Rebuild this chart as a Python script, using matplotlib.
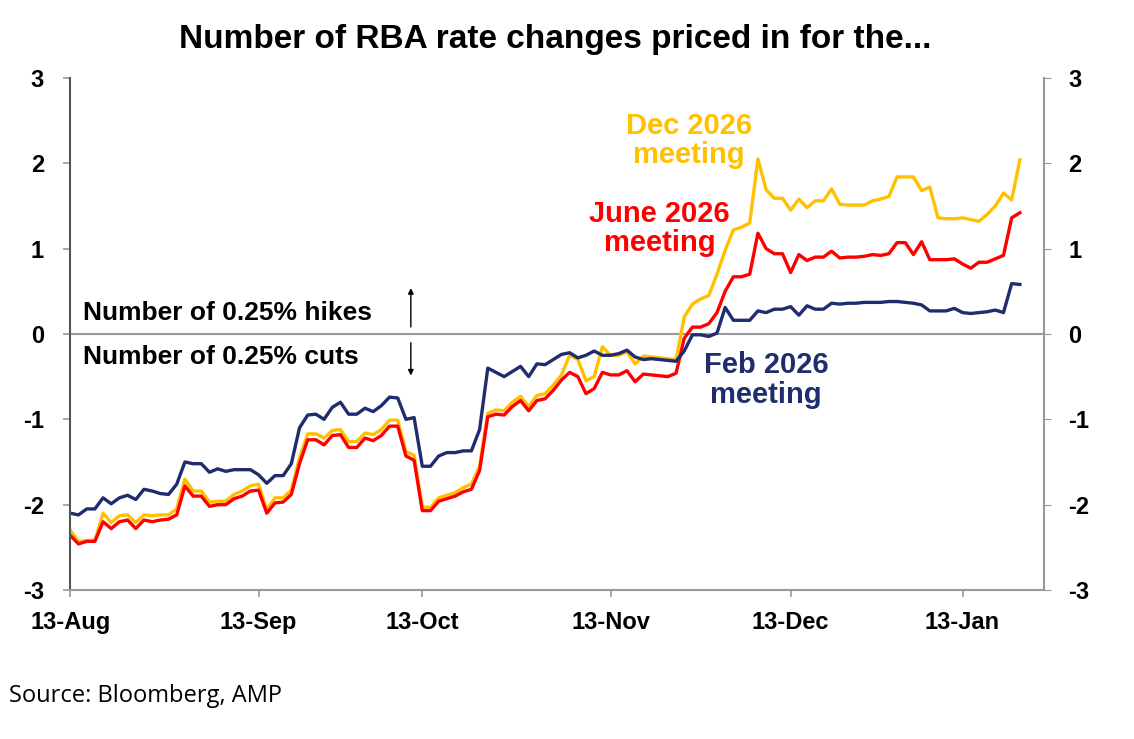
import numpy as np
import pandas as pd
import matplotlib
matplotlib.use("Agg")
import matplotlib.pyplot as plt

plt.rcParams['font.family'] = ['Liberation Sans', 'DejaVu Sans']

feb26 = [-2.10, -2.12, -2.05, -2.05, -1.92, -1.99, -1.92, -1.89, -1.94, -1.82,
         -1.84, -1.87, -1.88, -1.76, -1.50, -1.52, -1.52, -1.62, -1.58, -1.61,
         -1.59, -1.59, -1.59, -1.65, -1.75, -1.66, -1.66, -1.52, -1.10, -0.95,
         -0.94, -1.00, -0.86, -0.80, -0.94, -0.94, -0.87, -0.91, -0.84, -0.74,
         -0.75, -1.00, -0.98, -1.55, -1.55, -1.43, -1.39, -1.39, -1.37, -1.37,
         -1.12, -0.40, -0.45, -0.50, -0.44, -0.38, -0.50, -0.35, -0.36, -0.30,
         -0.24, -0.22, -0.28, -0.25, -0.20, -0.25, -0.25, -0.23, -0.19, -0.27,
         -0.30, -0.29, -0.30, -0.31, -0.32, -0.20, -0.01, -0.01, -0.03, 0.01,
         0.31, 0.16, 0.16, 0.16, 0.27, 0.25, 0.29, 0.29, 0.32, 0.22,
         0.33, 0.29, 0.29, 0.36, 0.35, 0.36, 0.36, 0.37, 0.37, 0.37,
         0.38, 0.38, 0.37, 0.36, 0.34, 0.27, 0.27, 0.27, 0.30, 0.25,
         0.24, 0.25, 0.26, 0.28, 0.25, 0.59, 0.58]

jun26 = [-2.36, -2.46, -2.43, -2.43, -2.20, -2.28, -2.20, -2.18, -2.28, -2.18,
         -2.20, -2.18, -2.17, -2.12, -1.78, -1.90, -1.90, -2.02, -2.00, -2.00,
         -1.93, -1.90, -1.84, -1.83, -2.10, -1.98, -1.97, -1.88, -1.52, -1.24,
         -1.24, -1.30, -1.19, -1.18, -1.33, -1.33, -1.22, -1.25, -1.19, -1.08,
         -1.08, -1.43, -1.48, -2.07, -2.07, -1.96, -1.93, -1.90, -1.85, -1.82,
         -1.60, -0.97, -0.94, -0.95, -0.85, -0.78, -0.90, -0.78, -0.76, -0.66,
         -0.54, -0.45, -0.50, -0.70, -0.64, -0.45, -0.48, -0.48, -0.43, -0.56,
         -0.47, -0.48, -0.49, -0.50, -0.46, -0.05, 0.08, 0.08, 0.12, 0.25,
         0.50, 0.67, 0.67, 0.70, 1.18, 1.00, 0.94, 0.94, 0.72, 0.93,
         0.86, 0.90, 0.90, 0.97, 0.89, 0.90, 0.90, 0.91, 0.93, 0.92,
         0.94, 1.07, 1.07, 0.93, 1.08, 0.87, 0.87, 0.87, 0.88, 0.82,
         0.77, 0.84, 0.84, 0.88, 0.92, 1.36, 1.42]

dec26 = [-2.30, -2.43, -2.42, -2.42, -2.10, -2.21, -2.13, -2.12, -2.21, -2.12,
         -2.13, -2.12, -2.12, -2.05, -1.70, -1.84, -1.84, -1.97, -1.96, -1.96,
         -1.88, -1.84, -1.78, -1.76, -2.06, -1.92, -1.92, -1.83, -1.45, -1.17,
         -1.17, -1.22, -1.13, -1.12, -1.26, -1.26, -1.16, -1.18, -1.12, -1.01,
         -1.01, -1.38, -1.42, -2.03, -2.03, -1.92, -1.89, -1.86, -1.80, -1.76,
         -1.55, -0.93, -0.89, -0.90, -0.80, -0.73, -0.85, -0.72, -0.70, -0.60,
         -0.48, -0.25, -0.30, -0.55, -0.50, -0.15, -0.25, -0.25, -0.21, -0.35,
         -0.26, -0.27, -0.28, -0.29, -0.30, 0.20, 0.35, 0.41, 0.45, 0.70,
         0.98, 1.22, 1.25, 1.30, 2.05, 1.69, 1.59, 1.59, 1.45, 1.58,
         1.48, 1.56, 1.56, 1.70, 1.52, 1.51, 1.51, 1.51, 1.56, 1.58,
         1.61, 1.84, 1.84, 1.84, 1.68, 1.72, 1.36, 1.35, 1.35, 1.36,
         1.34, 1.32, 1.40, 1.50, 1.65, 1.57, 2.04]

tick_dates = ['2025-08-13', '2025-09-13', '2025-10-13', '2025-11-13', '2025-12-13', '2026-01-13']
tick_labels = ['13-Aug', '13-Sep', '13-Oct', '13-Nov', '13-Dec', '13-Jan']

n = max(len(feb26), len(jun26), len(dec26))
dates = pd.bdate_range('2025-08-13', periods=n)
tick_pos = [int(np.searchsorted(dates, pd.Timestamp(d))) for d in tick_dates]

navy = '#1F2D6E'
red = '#FF0000'
gold = '#FFC000'

fig = plt.figure(figsize=(11.34, 7.39), dpi=100)
ax = fig.add_axes([0.062, 0.2016, 0.859, 0.693])

ax.plot(np.arange(len(dec26)), dec26, color=gold, lw=2.4)
ax.plot(np.arange(len(jun26)), jun26, color=red, lw=2.4)
ax.plot(np.arange(len(feb26)), feb26, color=navy, lw=2.4)

ax.set_ylim(-3, 3)
ax.set_xlim(0, n + 2)
ax.set_yticks([-3, -2, -1, 0, 1, 2, 3])
ax.set_yticklabels(['-3', '-2', '-1', '0', '1', '2', '3'])
ax.set_xticks(tick_pos)
ax.set_xticklabels(tick_labels)
ax.axhline(0, color='#999999', lw=1.5, zorder=0)
for s in ['left', 'right', 'bottom']:
    ax.spines[s].set_color('#999999')
    ax.spines[s].set_linewidth(1.5)
ax.spines['top'].set_visible(False)
ax.spines['left'].set_color('#555555')
ax.tick_params(axis='both', labelsize=17, length=5, color='#999999', width=1.2)
ax.tick_params(axis='x', pad=10)
for t in ax.get_xticklabels() + ax.get_yticklabels():
    t.set_fontweight('bold')
ax.yaxis.set_tick_params(pad=14)

ax2 = ax.twinx()
ax2.set_ylim(-3, 3)
ax2.set_yticks([-3, -2, -1, 0, 1, 2, 3])
ax2.set_yticklabels(['-3', '-2', '-1', '0', '1', '2', '3'])
ax2.tick_params(axis='y', labelsize=17, length=5, color='#999999', pad=12)
for t in ax2.get_yticklabels():
    t.set_fontweight('bold')
for s in ax2.spines.values():
    s.set_visible(False)

fig.text(0.49, 0.935, 'Number of RBA rate changes priced in for the...', ha='center',
         fontsize=24, fontweight='bold')

ax.text(1.5, 0.25, 'Number of 0.25% hikes', fontsize=19, fontweight='bold', va='center')
ax.text(1.5, -0.27, 'Number of 0.25% cuts', fontsize=19, fontweight='bold', va='center')
ax.annotate('', xy=(41.6, 0.57), xytext=(41.6, 0.05),
            arrowprops=dict(arrowstyle='-|>', color='black', lw=1, mutation_scale=8))
ax.annotate('', xy=(41.6, -0.52), xytext=(41.6, -0.07),
            arrowprops=dict(arrowstyle='-|>', color='black', lw=1, mutation_scale=8))

ax.text(75.6, 2.27, 'Dec 2026\nmeeting', color=gold, fontsize=21, fontweight='bold',
        ha='center', va='center', linespacing=1.05)
ax.text(72, 1.24, 'June 2026\nmeeting', color=red, fontsize=21, fontweight='bold',
        ha='center', va='center', linespacing=1.05)
ax.text(85, -0.54, 'Feb 2026\nmeeting', color=navy, fontsize=21, fontweight='bold',
        ha='center', va='center', linespacing=1.05)

fig.text(0.008, 0.05, 'Source: Bloomberg, AMP', fontsize=17, family='Open Sans')

fig.savefig('out.png', dpi=100, facecolor='white')
